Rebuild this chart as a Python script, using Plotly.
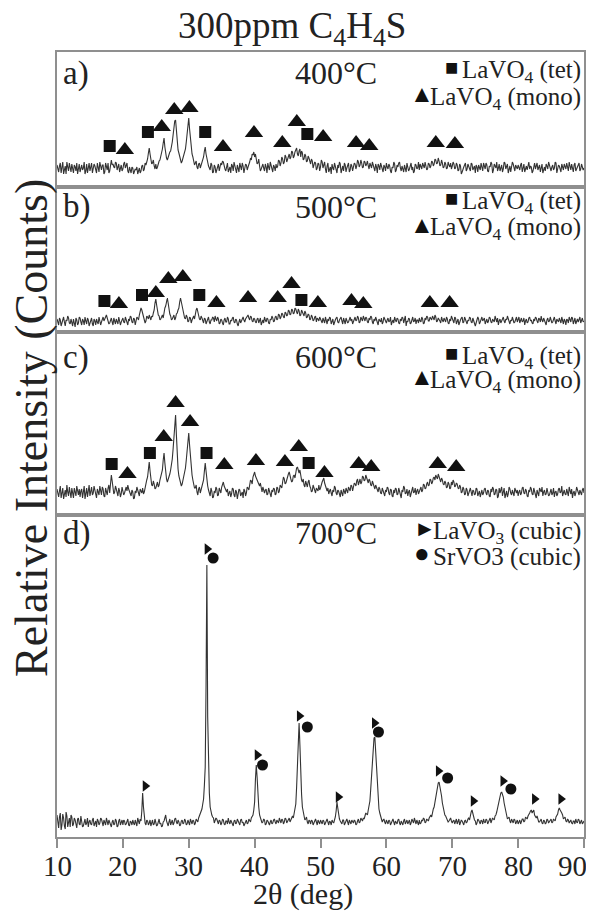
import plotly.graph_objects as go
from plotly.subplots import make_subplots

# ---------------- data ----------------
# 2theta scan: 10..90 deg, 0.125 deg step (main samples on the quarter degree,
# mid samples in between)
two_theta = [10 + 0.125 * i for i in range(641)]

counts_400_main = [
    22, 15, 24, 18, 13, 21, 25, 16, 19, 23, 14, 20, 24, 17, 15, 22, 19, 13, 23, 20,
    16, 24, 18, 21, 14, 19, 25, 17, 22, 15, 20, 24, 16, 27, 23, 19, 24, 21, 15, 22,
    18, 25, 21, 16, 20, 14, 19, 15, 17, 13, 19, 16, 22, 18, 22, 28, 39, 27, 24, 21,
    23, 20, 26, 30, 38, 49, 33, 27, 32, 36, 45, 60, 67, 44, 34, 28, 26, 31, 38, 52,
    69, 48, 33, 27, 24, 20, 23, 19, 26, 30, 40, 28, 21, 17, 22, 15, 20, 17, 23, 19,
    22, 25, 18, 21, 15, 20, 23, 16, 21, 14, 19, 24, 17, 21, 18, 22, 20, 25, 27, 32,
    30, 27, 24, 21, 18, 23, 16, 20, 24, 17, 21, 15, 20, 23, 21, 26, 24, 28, 25, 30,
    27, 33, 30, 35, 31, 37, 33, 36, 30, 34, 28, 31, 26, 29, 23, 26, 21, 24, 19, 23,
    20, 25, 22, 18, 21, 15, 20, 23, 17, 21, 14, 19, 23, 18, 16, 22, 19, 24, 17, 21,
    19, 23, 21, 25, 22, 24, 20, 25, 23, 21, 24, 19, 22, 16, 20, 23, 17, 21, 15, 20,
    24, 18, 21, 14, 19, 23, 17, 20, 25, 16, 19, 22, 15, 21, 18, 24, 20, 16, 22, 19,
    17, 21, 24, 19, 22, 18, 23, 21, 25, 23, 27, 24, 26, 22, 24, 20, 23, 19, 22, 24,
    21, 23, 19, 22, 17, 21, 15, 20, 24, 18, 21, 16, 23, 19, 14, 20, 22, 17, 21, 24,
    18, 22, 15, 20, 23, 17, 21, 25, 19, 16, 22, 18, 24, 20, 14, 21, 19, 23, 16, 20,
    22, 17, 24, 19, 15, 21, 23, 18, 20, 16, 24, 21, 17, 22, 19, 14, 20, 23, 18, 21,
    16, 22, 19, 24, 17, 21, 15, 20, 23, 18, 21, 25, 17, 19, 22, 16, 20, 24, 18, 21,
    19,
]
counts_400_mid = [
    17, 21, 14, 25, 18, 13, 20, 24, 15, 18, 22, 16, 13, 23, 21, 17, 25, 16, 14, 24,
    21, 14, 23, 17, 24, 15, 18, 22, 13, 24, 17, 14, 25, 22, 20, 25, 17, 23, 19, 16,
    23, 19, 24, 14, 17, 20, 13, 18, 20, 16, 14, 21, 16, 24, 25, 34, 33, 23, 27, 18,
    18, 24, 27, 35, 44, 40, 29, 30, 35, 40, 52, 66, 55, 37, 31, 24, 29, 34, 45, 62,
    58, 38, 30, 22, 26, 18, 24, 22, 27, 36, 33, 23, 19, 24, 14, 22, 14, 21, 16, 24,
    26, 20, 16, 24, 19, 14, 21, 25, 17, 22, 15, 20, 24, 14, 23, 17, 22, 29, 33, 35,
    33, 23, 28, 16, 21, 19, 23, 14, 20, 25, 18, 22, 16, 19, 27, 21, 30, 23, 32, 25,
    31, 28, 36, 29, 35, 39, 31, 38, 36, 27, 33, 25, 31, 24, 28, 19, 25, 17, 24, 16,
    27, 19, 25, 14, 24, 18, 13, 19, 24, 18, 22, 25, 14, 21, 24, 15, 22, 15, 23, 16,
    24, 18, 27, 20, 27, 19, 26, 21, 26, 18, 21, 25, 18, 23, 14, 21, 24, 17, 22, 16,
    20, 23, 16, 20, 25, 15, 22, 24, 19, 21, 15, 18, 24, 16, 23, 17, 14, 23, 18, 25,
    23, 18, 20, 25, 17, 24, 19, 26, 21, 28, 23, 29, 21, 27, 19, 25, 18, 25, 20, 18,
    25, 18, 24, 16, 23, 13, 19, 22, 16, 23, 19, 24, 17, 21, 22, 15, 18, 24, 16, 20,
    24, 16, 21, 25, 14, 23, 19, 16, 23, 20, 15, 25, 18, 23, 19, 15, 25, 17, 22, 18,
    18, 22, 15, 23, 20, 17, 25, 21, 14, 22, 18, 24, 20, 15, 23, 19, 16, 21, 25, 19,
    20, 17, 25, 14, 22, 18, 23, 17, 20, 24, 16, 20, 23, 15, 24, 19, 22, 16, 23, 17,
]

counts_500_main = [
    13, 7, 12, 9, 15, 6, 11, 14, 8, 10, 13, 5, 12, 9, 14, 7, 11, 15, 8, 12,
    9, 14, 6, 11, 13, 8, 12, 10, 15, 13, 17, 12, 9, 14, 7, 11, 13, 8, 12, 10,
    14, 9, 12, 7, 11, 15, 9, 13, 10, 14, 17, 24, 18, 13, 11, 15, 17, 12, 15, 22,
    33, 20, 16, 13, 17, 21, 26, 34, 22, 16, 13, 17, 14, 19, 24, 34, 25, 17, 13, 15,
    11, 14, 12, 16, 19, 24, 16, 12, 14, 9, 13, 11, 15, 8, 12, 14, 16, 11, 13, 9,
    12, 7, 14, 10, 13, 8, 11, 15, 9, 12, 6, 13, 11, 15, 10, 14, 17, 12, 15, 10,
    13, 9, 14, 11, 7, 12, 15, 10, 13, 8, 12, 14, 11, 16, 13, 17, 15, 18, 14, 19,
    17, 21, 18, 22, 19, 23, 18, 21, 17, 20, 16, 19, 15, 17, 13, 15, 12, 16, 14, 11,
    13, 9, 12, 15, 8, 11, 14, 10, 7, 12, 15, 9, 13, 11, 14, 8, 12, 10, 15, 13,
    11, 15, 12, 14, 10, 13, 16, 11, 14, 9, 12, 15, 8, 11, 13, 7, 12, 14, 10, 13,
    9, 14, 11, 7, 12, 15, 10, 13, 8, 11, 14, 12, 6, 10, 13, 9, 15, 11, 8, 12,
    14, 10, 13, 9, 12, 15, 11, 14, 16, 12, 15, 11, 13, 9, 12, 14, 10, 13, 8, 11,
    13, 9, 14, 11, 7, 12, 15, 10, 13, 8, 11, 14, 9, 12, 6, 11, 13, 10, 15, 12,
    8, 13, 11, 14, 9, 12, 16, 10, 7, 13, 11, 15, 9, 12, 14, 8, 11, 13, 10, 15,
    12, 9, 14, 11, 7, 13, 10, 15, 12, 8, 11, 14, 9, 13, 16, 10, 12, 7, 14, 11,
    13, 10, 15, 8, 12, 14, 9, 11, 13, 7, 12, 15, 10, 14, 11, 8, 13, 12, 9, 14,
    11,
]
counts_500_mid = [
    9, 14, 6, 13, 10, 12, 16, 9, 13, 6, 9, 14, 7, 15, 10, 13, 7, 11, 14, 6,
    12, 8, 13, 7, 10, 15, 7, 14, 11, 16, 14, 8, 13, 10, 14, 8, 11, 15, 7, 12,
    10, 15, 8, 13, 16, 10, 14, 7, 15, 12, 21, 22, 15, 9, 16, 13, 14, 16, 19, 29,
    27, 17, 12, 16, 14, 24, 31, 29, 18, 12, 16, 12, 18, 22, 30, 30, 20, 14, 17, 10,
    15, 9, 15, 13, 22, 20, 13, 16, 10, 14, 8, 14, 10, 12, 15, 10, 13, 15, 8, 13,
    9, 12, 10, 15, 8, 12, 14, 10, 13, 8, 10, 9, 14, 12, 13, 16, 14, 16, 11, 14,
    10, 13, 9, 14, 11, 9, 12, 14, 9, 13, 16, 10, 15, 12, 18, 13, 19, 15, 20, 16,
    22, 17, 23, 18, 24, 20, 23, 16, 22, 17, 21, 14, 18, 12, 17, 11, 15, 10, 13, 15,
    10, 14, 9, 11, 13, 15, 8, 13, 11, 14, 10, 12, 15, 8, 11, 14, 9, 13, 11, 8,
    14, 11, 16, 9, 15, 11, 12, 15, 10, 14, 16, 10, 13, 15, 9, 13, 10, 8, 15, 11,
    12, 10, 15, 10, 9, 12, 14, 9, 13, 15, 9, 16, 11, 14, 8, 13, 10, 14, 12, 9,
    11, 15, 8, 14, 16, 11, 15, 12, 13, 17, 10, 14, 11, 15, 10, 12, 15, 9, 13, 16,
    11, 15, 8, 13, 11, 14, 9, 15, 11, 12, 15, 10, 14, 10, 9, 15, 8, 13, 11, 14,
    12, 9, 15, 10, 13, 10, 13, 14, 11, 9, 14, 11, 13, 16, 10, 12, 15, 9, 14, 10,
    15, 12, 10, 14, 11, 9, 14, 11, 9, 13, 15, 11, 14, 10, 12, 14, 9, 12, 10, 15,
    9, 14, 11, 13, 10, 11, 15, 8, 11, 13, 9, 12, 15, 8, 14, 12, 10, 15, 13, 10,
]

counts_600_main = [
    26, 18, 29, 21, 16, 25, 30, 19, 23, 27, 17, 24, 29, 20, 18, 26, 22, 16, 27, 24,
    19, 28, 22, 25, 17, 23, 29, 20, 26, 18, 24, 27, 22, 40, 27, 23, 26, 19, 24, 21,
    25, 22, 28, 30, 24, 19, 23, 17, 22, 25, 19, 24, 27, 23, 31, 38, 53, 36, 29, 31,
    27, 33, 30, 38, 45, 62, 41, 33, 38, 45, 56, 78, 100, 58, 39, 33, 31, 38, 47, 62,
    82, 58, 40, 31, 27, 23, 26, 22, 28, 35, 52, 34, 25, 19, 24, 18, 22, 26, 20, 25,
    28, 33, 27, 23, 19, 24, 21, 26, 18, 23, 20, 25, 21, 17, 24, 22, 27, 30, 34, 38,
    43, 37, 33, 29, 25, 28, 22, 26, 21, 24, 18, 23, 26, 21, 27, 24, 29, 33, 36, 32,
    38, 43, 36, 34, 40, 44, 48, 42, 38, 33, 30, 34, 28, 35, 27, 24, 28, 22, 26, 30,
    27, 33, 37, 29, 24, 21, 26, 19, 23, 27, 20, 24, 18, 22, 26, 21, 25, 28, 24, 29,
    27, 31, 34, 30, 36, 33, 38, 35, 37, 32, 34, 29, 31, 26, 28, 23, 26, 21, 24, 19,
    23, 27, 20, 25, 18, 22, 26, 21, 24, 17, 23, 27, 22, 19, 25, 21, 28, 23, 20, 26,
    24, 28, 25, 30, 27, 33, 30, 35, 33, 38, 40, 36, 38, 33, 35, 30, 32, 28, 31, 27,
    30, 33, 29, 31, 26, 28, 23, 26, 21, 25, 22, 27, 19, 24, 21, 26, 23, 18, 25, 22,
    27, 20, 24, 18, 23, 26, 21, 25, 19, 22, 28, 23, 17, 24, 21, 26, 20, 23, 27, 22,
    19, 25, 22, 28, 21, 24, 18, 23, 26, 20, 24, 17, 22, 27, 23, 19, 25, 21, 24, 20,
    26, 22, 18, 24, 21, 27, 23, 19, 25, 20, 23, 28, 21, 17, 24, 22, 26, 20, 23, 25,
    22,
]
counts_600_mid = [
    21, 24, 17, 27, 22, 18, 23, 28, 17, 21, 27, 19, 22, 26, 24, 17, 29, 21, 18, 30,
    24, 20, 29, 18, 26, 20, 24, 28, 19, 27, 20, 30, 33, 34, 21, 29, 22, 27, 18, 28,
    20, 27, 24, 26, 21, 25, 16, 24, 28, 20, 26, 22, 21, 28, 35, 46, 44, 30, 34, 26,
    31, 28, 35, 42, 55, 52, 36, 35, 41, 50, 66, 92, 80, 46, 35, 29, 35, 42, 55, 74,
    70, 48, 35, 27, 30, 20, 28, 25, 31, 44, 44, 29, 21, 27, 17, 24, 28, 19, 27, 22,
    31, 29, 24, 26, 22, 18, 27, 20, 25, 16, 26, 19, 23, 26, 19, 28, 25, 35, 31, 41,
    39, 35, 30, 32, 23, 26, 25, 20, 27, 19, 25, 27, 20, 28, 22, 30, 27, 38, 31, 36,
    41, 38, 33, 39, 37, 47, 44, 45, 35, 36, 28, 31, 33, 29, 23, 30, 25, 27, 24, 25,
    31, 35, 32, 26, 27, 24, 22, 25, 29, 22, 25, 21, 25, 19, 23, 27, 22, 26, 30, 24,
    32, 29, 36, 33, 31, 39, 34, 40, 33, 36, 30, 34, 27, 30, 24, 28, 22, 27, 21, 25,
    28, 22, 26, 19, 25, 27, 20, 27, 20, 25, 29, 21, 26, 23, 18, 26, 22, 27, 24, 21,
    27, 23, 31, 26, 31, 29, 36, 31, 37, 35, 38, 41, 34, 37, 31, 34, 27, 33, 26, 33,
    35, 28, 32, 27, 30, 22, 28, 20, 27, 19, 26, 23, 25, 20, 27, 19, 24, 22, 20, 26,
    22, 25, 19, 26, 28, 20, 26, 17, 27, 25, 19, 27, 22, 18, 28, 22, 25, 19, 23, 25,
    23, 20, 27, 22, 26, 19, 25, 28, 21, 27, 21, 25, 19, 24, 28, 23, 20, 27, 19, 24,
    20, 27, 23, 19, 26, 22, 29, 22, 21, 26, 19, 24, 26, 22, 19, 28, 23, 25, 20, 27,
]

counts_700_main = [
    22, 9, 24, 12, 19, 8, 21, 14, 10, 20, 13, 17, 9, 19, 12, 16, 11, 18, 14, 10,
    17, 12, 19, 13, 10, 16, 14, 18, 11, 15, 19, 12, 14, 10, 17, 13, 16, 11, 18, 14,
    12, 16, 13, 18, 11, 15, 17, 12, 14, 19, 13, 16, 44, 18, 12, 16, 14, 11, 17, 13,
    15, 12, 18, 14, 11, 16, 22, 14, 15, 12, 17, 14, 19, 13, 15, 12, 17, 14, 16, 13,
    15, 18, 13, 16, 14, 17, 19, 22, 28, 38, 70, 272, 60, 30, 22, 19, 16, 18, 13, 16,
    14, 17, 12, 16, 19, 13, 15, 11, 17, 14, 16, 12, 18, 15, 13, 17, 14, 16, 19, 22,
    35, 72, 40, 22, 18, 15, 17, 13, 16, 12, 17, 14, 18, 13, 16, 19, 14, 17, 15, 18,
    16, 19, 17, 21, 24, 33, 70, 114, 60, 30, 21, 18, 15, 17, 13, 16, 14, 18, 12, 15,
    17, 13, 16, 14, 18, 12, 15, 17, 14, 20, 35, 22, 16, 13, 17, 14, 18, 12, 15, 17,
    14, 16, 13, 18, 15, 17, 19, 21, 23, 27, 36, 62, 94, 100, 62, 34, 24, 19, 17, 15,
    17, 13, 16, 14, 18, 12, 15, 17, 14, 16, 12, 18, 15, 13, 17, 14, 16, 19, 13, 15,
    17, 14, 16, 18, 15, 17, 19, 22, 25, 30, 40, 50, 55, 48, 34, 25, 21, 18, 16, 19,
    14, 17, 15, 13, 18, 14, 16, 12, 17, 15, 19, 22, 27, 20, 16, 14, 17, 13, 16, 18,
    14, 17, 15, 19, 16, 18, 21, 25, 32, 41, 45, 40, 29, 22, 19, 16, 18, 14, 17, 15,
    13, 17, 15, 18, 16, 19, 21, 24, 27, 25, 22, 19, 17, 15, 18, 13, 16, 14, 17, 15,
    18, 15, 17, 20, 23, 29, 26, 22, 19, 16, 18, 14, 17, 13, 16, 18, 14, 17, 15, 13,
    16,
]
counts_700_mid = [
    13, 20, 7, 23, 11, 25, 10, 19, 22, 11, 19, 10, 18, 13, 21, 10, 17, 12, 19, 15,
    13, 17, 11, 16, 18, 12, 19, 12, 17, 12, 14, 17, 11, 15, 12, 18, 10, 16, 12, 17,
    17, 12, 17, 12, 16, 12, 14, 17, 11, 15, 18, 26, 30, 14, 17, 12, 17, 15, 12, 18,
    11, 16, 13, 10, 15, 19, 16, 11, 18, 15, 12, 18, 15, 17, 11, 16, 13, 18, 12, 17,
    12, 15, 17, 12, 18, 15, 21, 24, 33, 52, 150, 120, 44, 25, 20, 14, 19, 15, 17, 12,
    18, 13, 16, 13, 15, 17, 12, 16, 13, 18, 13, 17, 14, 11, 16, 13, 18, 15, 20, 27,
    58, 60, 30, 20, 14, 18, 12, 17, 13, 15, 13, 17, 15, 17, 14, 16, 18, 13, 19, 14,
    18, 15, 20, 19, 28, 50, 98, 92, 43, 25, 17, 20, 13, 16, 17, 12, 17, 15, 17, 13,
    14, 17, 12, 17, 15, 16, 12, 15, 17, 26, 29, 18, 14, 17, 12, 16, 15, 17, 13, 16,
    17, 12, 16, 14, 19, 16, 18, 24, 22, 31, 48, 80, 99, 84, 46, 28, 21, 15, 18, 13,
    14, 17, 12, 17, 15, 16, 13, 18, 12, 14, 16, 13, 17, 16, 12, 18, 14, 15, 17, 12,
    13, 17, 19, 14, 18, 16, 21, 20, 28, 35, 45, 54, 51, 41, 29, 22, 19, 15, 18, 16,
    16, 13, 18, 16, 12, 17, 13, 16, 14, 18, 17, 25, 23, 17, 12, 18, 14, 17, 13, 15,
    18, 13, 18, 14, 19, 17, 22, 29, 36, 44, 43, 34, 25, 18, 20, 14, 16, 18, 13, 17,
    16, 13, 18, 15, 20, 18, 22, 26, 24, 27, 20, 21, 15, 17, 14, 17, 13, 18, 14, 17,
    14, 18, 16, 22, 27, 27, 24, 18, 20, 15, 17, 15, 14, 16, 13, 15, 18, 13, 17, 14,
]

# phase reflection marks (2theta, height)
tet_400_x = [18.0, 23.8, 32.5, 48.0]
tet_400_y = [41, 55, 55, 53]
mono_400_x = [20.3, 25.9, 27.8, 30.1, 35.2, 39.9, 44.2, 46.4, 50.4, 55.4, 57.4, 67.5, 70.4]
mono_400_y = [37, 60, 77, 79, 40, 54, 44, 65, 50, 44, 41, 44, 43]

tet_500_x = [17.2, 22.9, 31.6, 47.1]
tet_500_y = [31, 37, 37, 32]
mono_500_x = [19.4, 25.0, 26.9, 29.1, 34.2, 39.0, 43.5, 45.6, 49.6, 54.7, 56.5, 66.6, 69.6]
mono_500_y = [28, 39, 53, 55, 29, 34, 34, 48, 29, 31, 28, 29, 29]

tet_600_x = [18.3, 24.1, 32.7, 48.2]
tet_600_y = [51, 62, 62, 52]
mono_600_x = [20.7, 26.2, 28.0, 30.2, 35.4, 40.2, 44.6, 46.7, 50.6, 55.8, 57.7, 67.8, 70.6]
mono_600_y = [41, 78, 112, 93, 50, 54, 53, 68, 42, 51, 48, 51, 48]

lavo3_x = [23.4, 32.8, 40.4, 46.8, 52.7, 58.2, 67.9, 73.2, 77.7, 82.5, 86.5]
lavo3_y = [51, 288, 82, 121, 40, 114, 66, 36, 56, 38, 38]
srvo3_x = [33.7, 41.2, 48.0, 58.8, 69.3, 78.9]
srvo3_y = [279, 72, 110, 105, 59, 48]

panel_letters = ["a)", "b)", "c)", "d)"]
temperatures = ["400°C", "500°C", "600°C", "700°C"]
x_ticks = [10, 20, 30, 40, 50, 60, 70, 80, 90]


def merge(main, mid):
    out = []
    for a, b in zip(main[:-1], mid):
        out.extend([a, b])
    out.append(main[-1])
    return out


series = [merge(counts_400_main, counts_400_mid),
          merge(counts_500_main, counts_500_mid),
          merge(counts_600_main, counts_600_mid),
          merge(counts_700_main, counts_700_mid)]

# ---------------- layout helpers (page pixel coords) ----------------
PAGE_W, PAGE_H = 594, 913
OFF = 8  # default body margin of the html page
W, H = PAGE_W - OFF, PAGE_H - OFF
L, R, T, B = 57, 584, 52, 837
panel_tops = [52, 187, 332, 515]
panel_bottoms = [187, 332, 515, 837]
y_ranges = [[0, 135], [0, 145], [0, 183], [0, 322]]


def px(xp):
    return (xp - L) / (R - L)


def py(yp):
    return (B - yp) / (B - T)


FONT = "Liberation Serif"
TXT = "#222222"
LINE = "#333333"
FRAME = "#8f8f8f"
MARK = "#111111"

heights = [b - t for t, b in zip(panel_tops, panel_bottoms)]
fig = make_subplots(rows=4, cols=1, shared_xaxes=True, vertical_spacing=0,
                    row_heights=heights)

for i, s in enumerate(series):
    fig.add_trace(go.Scatter(x=two_theta, y=s, mode="lines",
                             line=dict(color=LINE, width=1.1),
                             showlegend=False, hoverinfo="skip"), row=i + 1, col=1)

marks = [
    (tet_400_x, tet_400_y, mono_400_x, mono_400_y),
    (tet_500_x, tet_500_y, mono_500_x, mono_500_y),
    (tet_600_x, tet_600_y, mono_600_x, mono_600_y),
]
for i, (tx, ty, mx, my) in enumerate(marks):
    fig.add_trace(go.Scatter(x=tx, y=ty, mode="markers",
                             marker=dict(symbol="square", size=12, color=MARK),
                             showlegend=False, hoverinfo="skip"), row=i + 1, col=1)
    fig.add_trace(go.Scatter(x=mx, y=my, mode="markers",
                             marker=dict(symbol="triangle-up", size=16, color=MARK),
                             showlegend=False, hoverinfo="skip"), row=i + 1, col=1)

fig.add_trace(go.Scatter(x=lavo3_x, y=lavo3_y, mode="markers",
                         marker=dict(symbol="triangle-right", size=10, color=MARK),
                         showlegend=False, hoverinfo="skip"), row=4, col=1)
fig.add_trace(go.Scatter(x=srvo3_x, y=srvo3_y, mode="markers",
                         marker=dict(symbol="circle", size=11, color=MARK),
                         showlegend=False, hoverinfo="skip"), row=4, col=1)

for i in range(4):
    fig.update_yaxes(range=y_ranges[i], showticklabels=False, ticks="",
                     showgrid=False, zeroline=False, showline=True, mirror=True,
                     linecolor=FRAME, linewidth=1.5, automargin=False,
                     row=i + 1, col=1)
    fig.update_xaxes(range=[10, 90], showgrid=False, zeroline=False,
                     showline=True, mirror=True, linecolor=FRAME, linewidth=1.5,
                     showticklabels=False, automargin=False, ticks="",
                     row=i + 1, col=1)

fig.update_xaxes(tickvals=x_ticks, ticks="outside", ticklen=9, tickwidth=1.5,
                 tickcolor=FRAME, row=4, col=1)

ann = []
# tick labels on the bottom axis
for v in x_ticks:
    last = v == x_ticks[-1]
    ann.append(dict(x=v, y=py(866), xref="x4", yref="paper", text=str(v),
                    showarrow=False, xanchor="right" if last else "center",
                    xshift=4 if last else 0, yanchor="middle", borderpad=0,
                    font=dict(family=FONT, size=29, color=TXT)))
# title
ann.append(dict(x=px(292), y=py(28), xref="paper", yref="paper",
                text="300ppm C<sub>4</sub>H<sub>4</sub>S", showarrow=False,
                font=dict(family=FONT, size=37, color=TXT), borderpad=0,
                xanchor="center", yanchor="middle"))
# axis titles
ann.append(dict(x=px(303), y=py(912), xref="paper", yref="paper",
                text="2θ (deg)", showarrow=False, borderpad=0,
                font=dict(family=FONT, size=30, color=TXT),
                xanchor="center", yanchor="bottom"))
ann.append(dict(x=px(31), y=py(428), xref="paper", yref="paper",
                text="Relative Intensity (Counts)", showarrow=False, textangle=-90,
                font=dict(family=FONT, size=46, color=TXT),
                xanchor="center", yanchor="middle"))

label_y = [73, 207, 357, 533]
leg1_y = [71, 203, 357, 532]
leg2_y = [98, 229, 381, 557]
for i in range(4):
    ann.append(dict(x=px(61), y=py(label_y[i]), xref="paper", yref="paper",
                    text=panel_letters[i], showarrow=False,
                    font=dict(family=FONT, size=33, color=TXT),
                    xanchor="left", yanchor="middle"))
    ann.append(dict(x=px(336), y=py(label_y[i]), xref="paper", yref="paper",
                    text=temperatures[i], showarrow=False,
                    font=dict(family=FONT, size=32, color=TXT),
                    xanchor="center", yanchor="middle"))

leg_texts = [
    ("LaVO<sub>4</sub> (tet)", "LaVO<sub>4</sub> (mono)"),
    ("LaVO<sub>4</sub> (tet)", "LaVO<sub>4</sub> (mono)"),
    ("LaVO<sub>4</sub> (tet)", "LaVO<sub>4</sub> (mono)"),
    ("LaVO<sub>3</sub> (cubic)", "SrVO3 (cubic)"),
]
leg_syms = [("■", "▲"), ("■", "▲"), ("■", "▲"), ("►", "●")]
sym_x = [(451, 422), (451, 422), (451, 422), (425, 422)]
sym_size = [(22, 24), (22, 24), (22, 24), (22, 26)]
for i in range(4):
    for k, yy in enumerate((leg1_y[i], leg2_y[i])):
        ann.append(dict(x=px(582), y=py(yy), xref="paper", yref="paper",
                        text=leg_texts[i][k], showarrow=False, borderpad=0,
                        font=dict(family=FONT, size=25, color=TXT),
                        xanchor="right", yanchor="middle"))
        ann.append(dict(x=px(sym_x[i][k]), y=py(yy - 4), xref="paper", yref="paper",
                        text=leg_syms[i][k], showarrow=False, borderpad=0,
                        font=dict(family=FONT, size=sym_size[i][k], color=MARK),
                        xanchor="center", yanchor="middle"))

fig.update_layout(width=W, height=H,
                  margin=dict(l=L - OFF, r=PAGE_W - R, t=T - OFF, b=PAGE_H - B,
                              autoexpand=False),
                  paper_bgcolor="white", plot_bgcolor="white",
                  annotations=ann, showlegend=False)

fig.write_html("out.html")
